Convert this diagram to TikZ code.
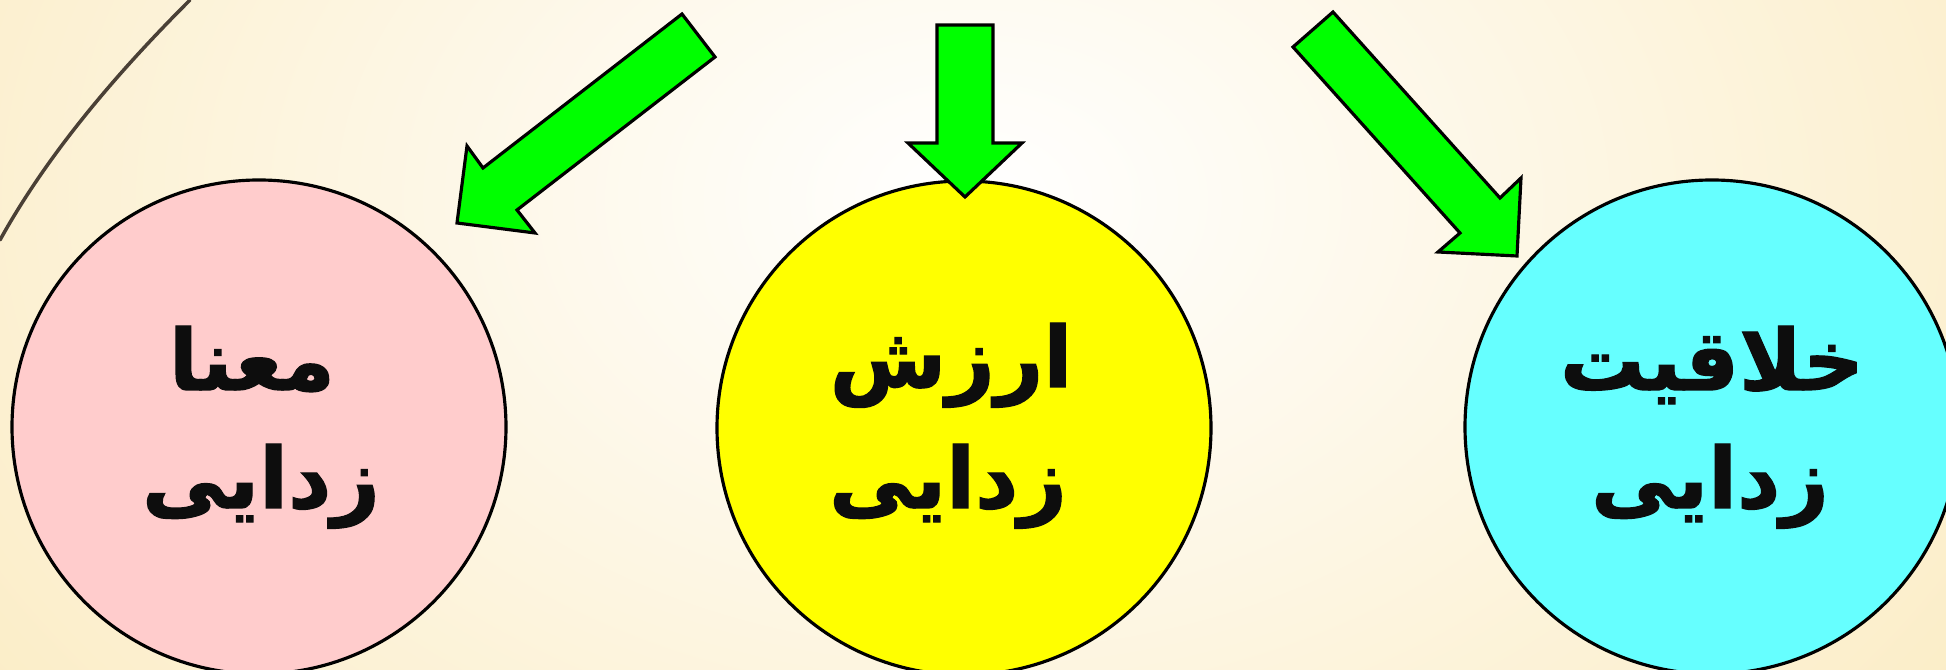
\documentclass[tikz,border=0pt]{standalone}
\usepackage{fontspec}
\TeXXeTstate=1
\newfontfamily\arabicfont[Script=Arabic,BoldFeatures={FakeBold=1.5}]{DejaVu Sans}
\definecolor{bgcream}{RGB}{251,236,196}
\definecolor{bubpink}{RGB}{255,204,204}
\definecolor{bubyellow}{RGB}{255,255,0}
\definecolor{bubcyan}{RGB}{102,255,255}
\definecolor{arrgreen}{RGB}{0,255,0}
\definecolor{txtblack}{RGB}{13,13,13}
\definecolor{strokebrown}{RGB}{74,64,54}
\begin{document}
\begin{tikzpicture}[x=0.1mm,y=-0.1mm,
  bubble/.style={circle,draw=black,line width=0.9pt,minimum size=49.4mm,inner sep=0pt},
  fatarrow/.style={fill=arrgreen,draw=black,line width=0.9pt,line join=miter},
  wordtext/.style={inner sep=0pt,anchor=base,text=txtblack,font=\arabicfont\bfseries\fontsize{24}{28}\selectfont}]
\useasboundingbox (0,0) rectangle (1946,670);
\clip (0,0) rectangle (1946,670);
\shade[inner color=white,outer color=bgcream] (-300,-700) rectangle (2246,1100);
% brush stroke
\draw[strokebrown,line width=1pt,line cap=round] (190,0) .. controls (120,70) and (50,150) .. (0,240);
% circles
\node[bubble,fill=bubpink] (c1) at (259,427) {};
\node[bubble,fill=bubyellow] (c2) at (964,428) {};
\node[bubble,fill=bubcyan] (c3) at (1712,427) {};
% texts
\node[wordtext] (t1a) at (252,390) {\beginR معنا\endR};
\node[wordtext] (t1b) at (261,508) {\beginR زدایی\endR};
\node[wordtext] (t2a) at (951,387) {\beginR ارزش\endR};
\node[wordtext] (t2b) at (948,508) {\beginR زدایی\endR};
\node[wordtext] (t3a) at (1712,390) {\beginR خلاقیت\endR};
\node[wordtext] (t3b) at (1710,508) {\beginR زدایی\endR};
% arrows
\draw[fatarrow] (682,14) -- (715,57) -- (517,210) -- (535,233) -- (457,223) -- (467,146) -- (483,168) -- cycle;
\draw[fatarrow] (937,25) -- (993,25) -- (993,143) -- (1022,143) -- (965,197) -- (908,143) -- (937,143) -- cycle;
\draw[fatarrow] (1333,12) -- (1500,198) -- (1521,178) -- (1517,256) -- (1438,252) -- (1460,233) -- (1293,47) -- cycle;
\end{tikzpicture}
\end{document}
